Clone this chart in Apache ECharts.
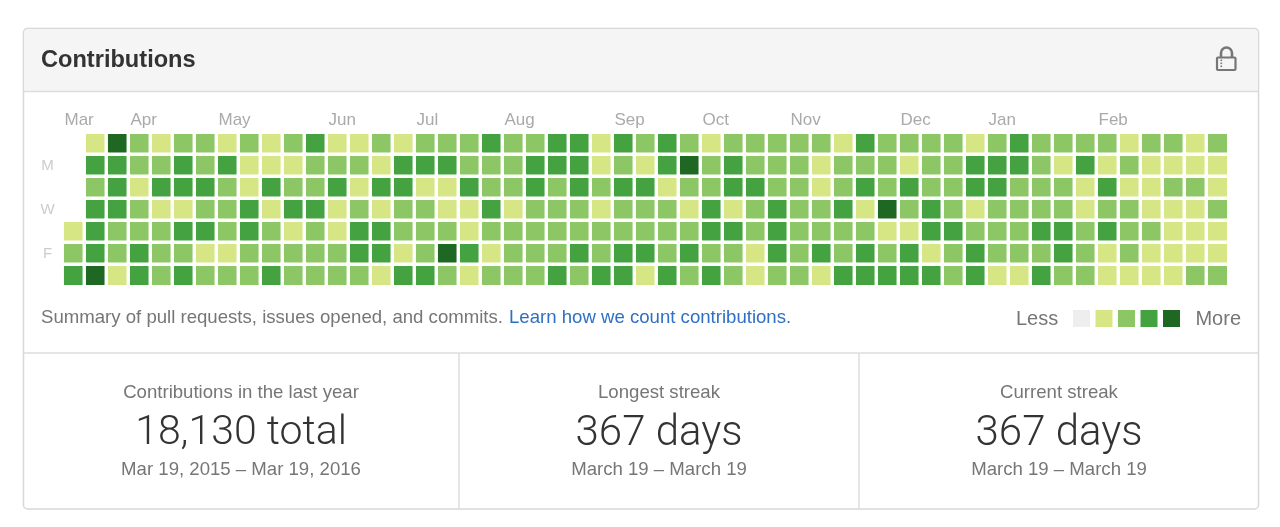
<!DOCTYPE html>
<html>
<head>
<meta charset="utf-8">
<title>Contributions</title>
<script src="https://cdn.jsdelivr.net/npm/echarts@6/dist/echarts.min.js"></script>
<style>
    html, body { margin: 0; padding: 0; background: #fff; }
    #main { width: 1280px; height: 527px; }
</style>
</head>
<body>
<div id="main"></div>
<script>
// contribution level per week (0 = none .. 4 = most), null = day outside the range
const sun = [null,1,4,2,1,2,2,1,2,1,2,3,1,1,2,1,2,2,2,3,2,2,3,3,1,3,2,3,2,1,2,2,2,2,2,1,3,2,2,2,2,1,2,3,2,2,2,2,1,2,2,1,2]
const mon = [null,3,3,2,2,3,2,3,1,1,1,2,2,2,1,3,3,3,2,2,2,3,3,3,1,2,1,3,4,2,3,2,2,2,1,2,2,2,1,2,2,3,3,3,2,1,3,1,2,1,1,1,1]
const tue = [null,2,3,1,3,3,3,2,1,3,2,2,3,1,3,3,1,1,3,2,2,3,2,3,2,3,3,1,2,2,3,3,2,2,1,2,3,2,3,2,2,3,3,2,2,2,1,3,1,1,2,2,1]
const wed = [null,3,3,2,1,1,2,2,3,1,3,3,1,2,1,2,2,1,1,3,1,2,2,2,1,2,2,2,1,3,1,2,3,2,2,3,1,4,2,3,2,1,2,2,2,2,1,2,2,1,1,1,2]
const thu = [1,3,2,2,2,3,3,2,3,2,1,2,1,3,3,2,2,2,1,2,2,2,2,2,2,2,2,2,2,3,3,2,3,2,2,2,2,1,1,3,3,2,2,2,3,3,2,3,2,2,1,1,1]
const fri = [2,3,2,3,2,2,1,1,2,2,2,2,2,3,3,1,2,4,3,1,2,2,2,3,2,3,3,2,3,2,2,1,3,2,3,2,3,2,3,1,2,3,2,2,2,3,2,1,2,1,1,1,1]
const sat = [3,4,1,3,2,3,2,2,2,3,2,2,2,2,1,3,3,2,1,2,2,2,3,2,3,3,1,3,2,3,2,1,2,2,1,3,3,3,3,3,2,3,1,1,3,2,2,1,1,1,1,2,2]
const dayRows = [sun, mon, tue, wed, thu, fri, sat]
const dayLabels = ['', 'M', '', 'W', '', 'F', '']
const months = ['Mar', 'Apr', 'May', 'Jun', 'Jul', 'Aug', 'Sep', 'Oct', 'Nov', 'Dec', 'Jan', 'Feb']
const monthWeeks = [0, 3, 7, 12, 16, 20, 25, 29, 33, 38, 42, 47]
const levelColors = ['#eeeeee', '#d6e685', '#8cc665', '#44a340', '#1e6823']

const weeks = sun.map((_, i) => i)
// one extra tick so the label axis runs edge to edge of the weeks
const weekTicks = [...weeks, 53].map(i => {
    let m = monthWeeks.indexOf(i)
    return m >= 0 ? months[m] : ''
})
const cells = []
dayRows.forEach((row, d) => {
    row.forEach((level, w) => {
        if (level !== null) cells.push([w, d, level])
    })
})

const FONT = '"Liberation Sans", Arial, sans-serif'
const GREY = '#767676'

const label = (x, y, text, size, color, align, extra) => ({
    type: 'text',
    x: x,
    y: y,
    silent: true,
    style: Object.assign({
        text: text,
        font: size + 'px ' + FONT,
        fill: color,
        align: align,
        verticalAlign: 'middle'
    }, extra || {})
})
const bigLabel = (x, text, size) => label(x, 434, text, size, '#333333', 'center', { font: '300 ' + size + 'px Roboto, ' + FONT })

let myChart = echarts.init(document.getElementById('main'), null, { renderer: 'canvas' })
myChart.setOption({
    animation: false,
    backgroundColor: '#fff',
    grid: {
        left: 62.5,
        top: 132.5,
        width: 1166,
        height: 154
    },
    xAxis: [
        {
            type: 'category',
            data: weeks,
            axisLine: { show: false },
            axisTick: { show: false },
            axisLabel: { show: false },
            splitLine: { show: false }
        },
        {
            type: 'category',
            position: 'top',
            boundaryGap: false,
            data: weekTicks,
            axisLine: { show: false },
            axisTick: { show: false },
            splitLine: { show: false },
            axisLabel: {
                interval: 0,
                align: 'left',
                margin: 3.5,
                padding: [0, 0, 0, 2],
                fontFamily: FONT,
                fontSize: 17,
                color: '#aaaaaa'
            }
        }
    ],
    yAxis: {
        type: 'category',
        inverse: true,
        data: dayLabels,
        axisLine: { show: false },
        axisTick: { show: false },
        splitLine: { show: false },
        axisLabel: {
            interval: 0,
            align: 'center',
            margin: 15,
            fontFamily: FONT,
            fontSize: 15,
            color: '#cccccc'
        }
    },
    visualMap: {
        type: 'piecewise',
        orient: 'horizontal',
        left: 1073,
        top: 310,
        padding: 0,
        itemWidth: 17,
        itemHeight: 17,
        itemGap: 5.5,
        itemSymbol: 'rect',
        showLabel: false,
        hoverLink: false,
        selectedMode: false,
        dimension: 2,
        pieces: levelColors.map((c, i) => ({ value: i, color: c }))
    },
    series: [
        {
            name: 'Contributions',
            type: 'heatmap',
            data: cells,
            itemStyle: { borderColor: '#fff', borderWidth: 3.4 },
            emphasis: { disabled: true }
        }
    ],
    graphic: {
        elements: [
            // panel frame
            { type: 'rect', z: -3, silent: true, shape: { x: 23.5, y: 28.5, width: 1235, height: 480.5, r: 4 },
              style: { fill: '#fff', stroke: '#d8d8d8', lineWidth: 1.5 } },
            { type: 'rect', z: -2, silent: true, shape: { x: 24.5, y: 29.5, width: 1233, height: 61.5, r: [3, 3, 0, 0] },
              style: { fill: '#f5f5f5' } },
            { type: 'line', z: -2, silent: true, shape: { x1: 24, y1: 91.5, x2: 1258, y2: 91.5 }, style: { stroke: '#dddddd', lineWidth: 1.5 } },
            { type: 'line', z: -2, silent: true, shape: { x1: 24, y1: 353, x2: 1258, y2: 353 }, style: { stroke: '#dddddd', lineWidth: 1.5 } },
            { type: 'line', z: -2, silent: true, shape: { x1: 459, y1: 353, x2: 459, y2: 509 }, style: { stroke: '#dddddd', lineWidth: 1.5 } },
            { type: 'line', z: -2, silent: true, shape: { x1: 859, y1: 353, x2: 859, y2: 509 }, style: { stroke: '#dddddd', lineWidth: 1.5 } },

            // header
            label(41, 60, 'Contributions', 23.6, '#333333', 'left', { font: 'bold 23.6px ' + FONT }),

            // lock icon
            { type: 'arc', silent: true, shape: { cx: 1226.5, cy: 53, r: 5.5, startAngle: Math.PI, endAngle: 2 * Math.PI },
              style: { fill: 'none', stroke: GREY, lineWidth: 2.6 } },
            { type: 'line', silent: true, shape: { x1: 1221, y1: 53, x2: 1221, y2: 57 }, style: { stroke: GREY, lineWidth: 2.6 } },
            { type: 'line', silent: true, shape: { x1: 1232, y1: 53, x2: 1232, y2: 57 }, style: { stroke: GREY, lineWidth: 2.6 } },
            { type: 'rect', silent: true, shape: { x: 1217, y: 57.5, width: 18.5, height: 12.5, r: 1 },
              style: { fill: '#f5f5f5', stroke: GREY, lineWidth: 2.2 } },
            { type: 'rect', silent: true, shape: { x: 1220.5, y: 59.5, width: 1.6, height: 1.6 }, style: { fill: GREY } },
            { type: 'rect', silent: true, shape: { x: 1220.5, y: 62.5, width: 1.6, height: 1.6 }, style: { fill: GREY } },
            { type: 'rect', silent: true, shape: { x: 1220.5, y: 65.5, width: 1.6, height: 1.6 }, style: { fill: GREY } },

            // note under the grid
            label(41, 318, 'Summary of pull requests, issues opened, and commits.', 18.6, GREY, 'left'),
            label(509, 318, 'Learn how we count contributions.', 18.6, '#2f6fc4', 'left'),

            // legend ends
            label(1016, 319, 'Less', 20, GREY, 'left'),
            label(1241, 319, 'More', 20, GREY, 'right'),

            // stats
            label(241, 393, 'Contributions in the last year', 18.6, GREY, 'center'),
            bigLabel(241, '18,130 total', 41),
            label(241, 470, 'Mar 19, 2015 \u2013 Mar 19, 2016', 18.6, GREY, 'center'),
            label(659, 393, 'Longest streak', 18.6, GREY, 'center'),
            bigLabel(659, '367 days', 42),
            label(659, 470, 'March 19 \u2013 March 19', 18.6, GREY, 'center'),
            label(1059, 393, 'Current streak', 18.6, GREY, 'center'),
            bigLabel(1059, '367 days', 42),
            label(1059, 470, 'March 19 \u2013 March 19', 18.6, GREY, 'center')
        ]
    }
})
</script>
</body>
</html>
